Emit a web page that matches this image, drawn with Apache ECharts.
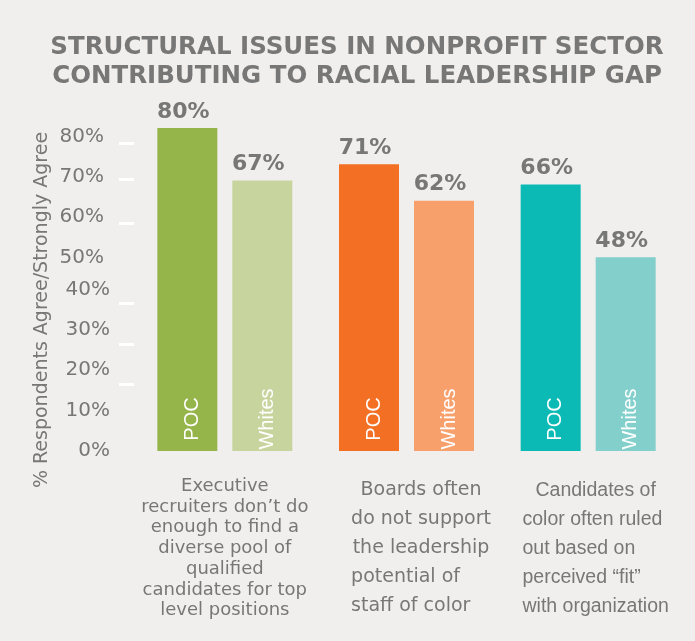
<!DOCTYPE html>
<html>
<head>
<meta charset="utf-8">
<script src="https://cdn.jsdelivr.net/npm/echarts@6/dist/echarts.min.js"></script>
<style>
html, body { margin: 0; padding: 0; background: #f0efed; }
#bar { width: 695px; height: 641px; }
</style>
</head>
<body>
<div id="bar"></div>
<script>
var titleText = 'STRUCTURAL ISSUES IN NONPROFIT SECTOR\nCONTRIBUTING TO RACIAL LEADERSHIP GAP';
var yAxisName = '% Respondents Agree/Strongly Agree';
var categories = [
	'Executive\nrecruiters don\u2019t do\nenough to find a\ndiverse pool of\nqualified\ncandidates for top\nlevel positions',
	'Boards often\ndo not support\nthe leadership\npotential of\nstaff of color',
	'Candidates of\ncolor often ruled\nout based on\nperceived \u201cfit\u201d\nwith organization'
];
var seriesNames = ['POC', 'Whites'];
var pocValues = [80, 71, 66];
var whitesValues = [67, 62, 48];
var yMin = 0, yMax = 80, yStep = 10;

var pocColors = ['#95b54a', '#f26f24', '#0bbab4'];
var whitesColors = ['#c8d49d', '#f7a06b', '#83cfcc'];
// rich style per line of each category label
var lineStyles = [
	['a', 'a', 'a', 'a', 'a', 'a', 'a'],
	['b', 'b', 'b', 'bl', 'bl'],
	['c', 'cl', 'cl', 'cl', 'cl']
];
var labelShift = [0, 29, 15];

var gray = '#777777';

function colored(values, colors) {
	return values.map(function(v, i) {
		return { value: v, itemStyle: { color: colors[i] } };
	});
}

var myChart = echarts.init(document.getElementById('bar'));

var nameLabel = {
	show: true,
	position: 'insideBottom',
	distance: 32,
	rotate: 90,
	align: 'center',
	verticalAlign: 'middle',
	offset: [0, 5],
	formatter: '{a}',
	color: '#ffffff',
	fontFamily: 'Liberation Sans',
	fontSize: 20
};
var valueLabel = {
	show: true,
	position: 'top',
	distance: 5,
	offset: [-4, 0],
	formatter: '{c}%',
	color: gray,
	fontFamily: 'DejaVu Sans',
	fontWeight: 'bold',
	fontSize: 22
};

var option = {
	backgroundColor: '#f0efed',
	animation: false,
	title: {
		text: titleText,
		left: 352,
		top: 28,
		textAlign: 'center',
		textStyle: {
			fontFamily: 'DejaVu Sans',
			fontWeight: 'bold',
			fontSize: 24.5,
			lineHeight: 29,
			color: gray
		}
	},
	graphic: [{
		type: 'text',
		x: 42,
		y: 310,
		rotation: Math.PI / 2,
		style: {
			text: yAxisName,
			fontFamily: 'DejaVu Sans',
			fontSize: 19,
			fill: gray,
			align: 'center',
			verticalAlign: 'middle'
		}
	}],
	grid: {
		left: 134,
		right: 16,
		top: 128,
		bottom: 190
	},
	xAxis: [{
		type: 'category',
		data: categories.map(function(c, i) {
			return { value: c, textStyle: { padding: [0, 0, 0, labelShift[i]] } };
		}),
		axisLine: { show: false },
		axisTick: { show: false },
		axisLabel: {
			interval: 0,
			margin: 25,
			formatter: function(value, index) {
				return value.split('\n').map(function(line, k) {
					return '{' + lineStyles[index][k] + '|' + line + '}';
				}).join('\n');
			},
			rich: {
				a: { fontFamily: 'DejaVu Sans', fontSize: 18, lineHeight: 20.7, color: gray, align: 'center' },
				b: { fontFamily: 'DejaVu Sans', fontSize: 19, lineHeight: 29, color: gray, align: 'center' },
				bl: { fontFamily: 'DejaVu Sans', fontSize: 19, lineHeight: 29, color: gray, align: 'left' },
				c: { fontFamily: 'Liberation Sans', fontSize: 19.5, lineHeight: 29, color: gray, align: 'center' },
				cl: { fontFamily: 'Liberation Sans', fontSize: 19.5, lineHeight: 29, color: gray, align: 'left' }
			}
		}
	}, {
		type: 'category',
		data: categories,
		show: false
	}],
	yAxis: [{
		type: 'value',
		min: yMin,
		max: yMax,
		interval: yStep,
		axisLine: { show: false },
		splitLine: { show: false },
		axisTick: {
			show: true,
			length: 15,
			lineStyle: { color: '#ffffff', width: 3 },
			customValues: [16.5, 26.5, 36.5, 56.5, 67.4, 76.3]
		},
		axisLabel: {
			margin: 24,
			formatter: function(v) {
				return (v >= 50 ? '{hi|' : '{lo|') + v + '%}';
			},
			rich: {
				hi: { fontFamily: 'DejaVu Sans', fontSize: 20, color: gray, padding: [17, 6, 0, 0] },
				lo: { fontFamily: 'DejaVu Sans', fontSize: 20, color: gray }
			}
		}
	}],
	series: [{
		name: seriesNames[0],
		type: 'bar',
		barWidth: 60,
		barGap: '25%',
		data: colored(pocValues, pocColors),
		label: nameLabel
	}, {
		name: seriesNames[1],
		type: 'bar',
		barWidth: 60,
		barGap: '25%',
		data: colored(whitesValues, whitesColors),
		label: nameLabel
	}, {
		name: seriesNames[0] + ' value',
		type: 'bar',
		xAxisIndex: 1,
		barWidth: 60,
		barGap: '25%',
		silent: true,
		itemStyle: { color: 'rgba(0,0,0,0)' },
		data: pocValues,
		label: valueLabel
	}, {
		name: seriesNames[1] + ' value',
		type: 'bar',
		xAxisIndex: 1,
		barWidth: 60,
		barGap: '25%',
		silent: true,
		itemStyle: { color: 'rgba(0,0,0,0)' },
		data: whitesValues,
		label: valueLabel
	}]
};
myChart.setOption(option);
</script>
</body>
</html>
